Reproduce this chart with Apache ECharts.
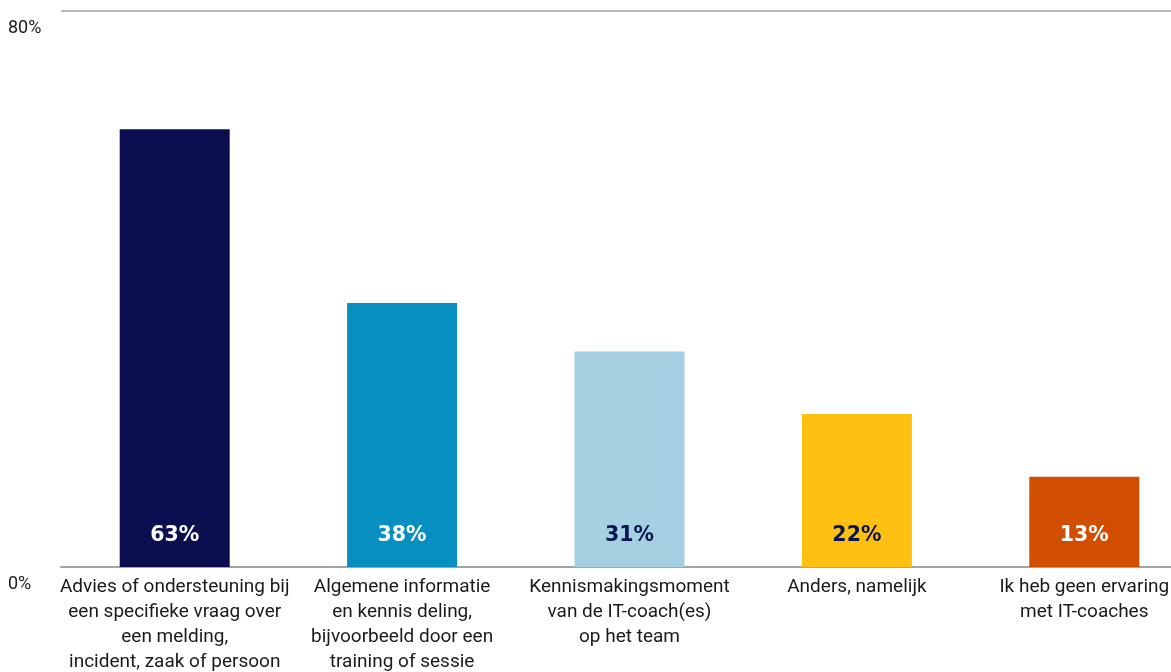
<!DOCTYPE html>
<html><head><meta charset="utf-8">
<script src="https://cdn.jsdelivr.net/npm/echarts@6/dist/echarts.min.js"></script>
<style>html,body{margin:0;padding:0;background:#fff}#c{width:1171px;height:672px}</style>
</head><body><div id="c"></div>
<script>
const categories = [
  "Advies of ondersteuning bij\neen specifieke vraag over\neen melding,\nincident, zaak of persoon",
  "Algemene informatie\nen kennis deling,\nbijvoorbeeld door een\ntraining of sessie",
  "Kennismakingsmoment\nvan de IT-coach(es)\nop het team",
  "Anders, namelijk",
  "Ik heb geen ervaring\nmet IT-coaches"
];
const values = [63, 38, 31, 22, 13];
const barColors = ["#0b0f50", "#078fc0", "#a4d0e1", "#fdc010", "#d14d00"];
const labelColors = ["#ffffff", "#ffffff", "#0b1550", "#0b1550", "#ffffff"];

const chart = echarts.init(document.getElementById('c'));
chart.setOption({
  animation: false,
  grid: {left: 61, width: 1137, top: 11, bottom: 105, containLabel: false, outerBoundsMode: 'none'},
  xAxis: {
    type: 'category', data: categories,
    axisLine: {show: true, lineStyle: {color: '#a0a4a4', width: 2}},
    axisTick: {show: false},
    axisLabel: {interval: 0, color: '#1a1a1a', fontFamily: 'Roboto', fontSize: 19, lineHeight: 25, margin: 8}
  },
  yAxis: {
    type: 'value', min: 0, max: 80, interval: 80,
    axisLine: {show: false}, axisTick: {show: false},
    splitLine: {show: true, lineStyle: {color: '#b5bab8', width: 2}},
    axisLabel: {formatter: '{value}%', align: 'left', verticalAlign: 'top', margin: 53,
      color: '#1a1a1a', fontFamily: 'Roboto', fontSize: 18, padding: [8, 0, 0, 0]}
  },
  series: [{
    type: 'bar', barWidth: 110,
    data: values.map((v, i) => ({value: v, itemStyle: {color: barColors[i]},
      label: {color: labelColors[i]}})),
    label: {show: true, position: 'insideBottom', distance: 21, formatter: '{c}%',
      fontFamily: 'DejaVu Sans', fontWeight: 'bold', fontSize: 20.5}
  }]
});
</script></body></html>
